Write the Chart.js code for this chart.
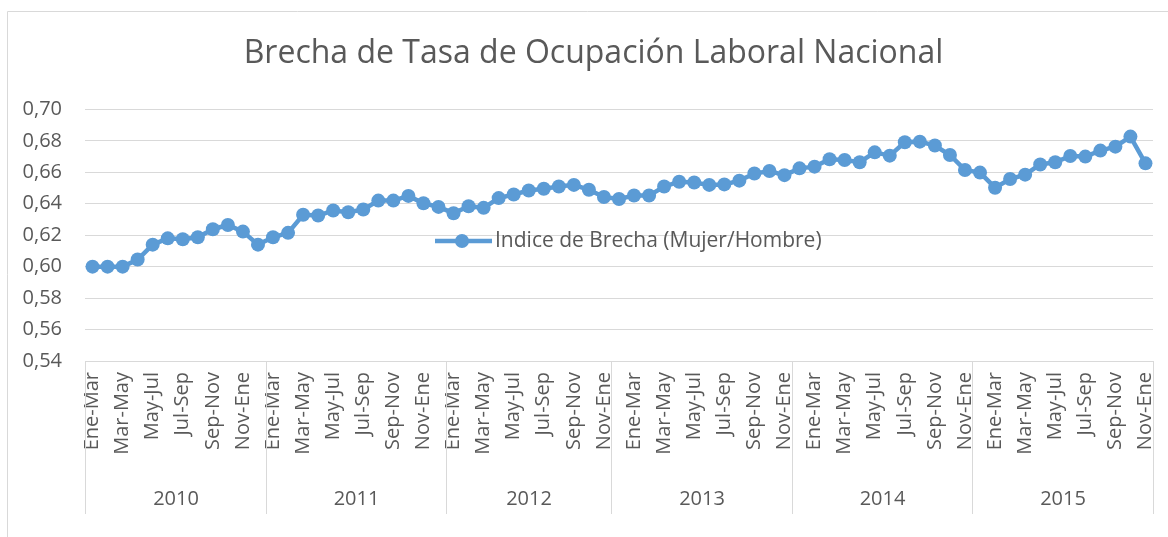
<!DOCTYPE html>
<html>
<head>
<meta charset="utf-8">
<title>Brecha de Tasa de Ocupación Laboral Nacional</title>
<script src="https://cdn.jsdelivr.net/npm/chart.js@4"></script>
<style>
  html, body { margin: 0; padding: 0; background: #fff; }
  #wrap { width: 1168px; height: 537px; }
</style>
</head>
<body>
<div id="wrap"><canvas id="chart"></canvas></div>
<script>
// Moving quarters per year (2012 has no Dic-Feb, 2013+ start with it)
const periodsA = ['Ene-Mar', 'Feb-Abr', 'Mar-May', 'Abr-Jun', 'May-Jul', 'Jun-Ago',
                  'Jul-Sep', 'Ago-Oct', 'Sep-Nov', 'Oct-Dic', 'Nov-Ene', 'Dic-Feb'];
const periods2012 = periodsA.slice(0, 11);
const periodsB = ['Dic-Feb'].concat(periodsA.slice(0, 11));

const years = ['2010', '2011', '2012', '2013', '2014', '2015'];
const yearPeriods = [periodsA, periodsA, periods2012, periodsB, periodsB, periodsB];

const yTicks = [0.54, 0.56, 0.58, 0.60, 0.62, 0.64, 0.66, 0.68, 0.70];

const seriesName = 'Indice de Brecha (Mujer/Hombre)';
const brecha = [
    // 2010
    0.600, 0.600, 0.600, 0.6045, 0.614, 0.618, 0.6174, 0.6187, 0.6238, 0.6265, 0.6223, 0.614,
    // 2011
    0.6187, 0.6215, 0.633, 0.6325, 0.6357, 0.6346, 0.6363, 0.642, 0.642, 0.645, 0.6403, 0.638,
    // 2012
    0.634, 0.6384, 0.6374, 0.6436, 0.6459, 0.6484, 0.6495, 0.651, 0.652, 0.6489, 0.6443,
    // 2013
    0.643, 0.6452, 0.6452, 0.651, 0.654, 0.6535, 0.652, 0.6523, 0.6547, 0.6592, 0.6608, 0.6582,
    // 2014
    0.6625, 0.6636, 0.6683, 0.6678, 0.6664, 0.6727, 0.6706, 0.6791, 0.6795, 0.677, 0.671, 0.6615,
    // 2015
    0.6598, 0.6502, 0.6557, 0.6585, 0.665, 0.6664, 0.6704, 0.670, 0.6738, 0.6763, 0.6827, 0.6657
];

const labels = [].concat(...yearPeriods);

const gray = '#595959';
const lineGray = '#d9d9d9';
const blue = '#5b9bd5';

Chart.defaults.font.family = "'Open Sans', sans-serif";
Chart.defaults.color = gray;

// Frame, year groups and the legend placed inside the plot
const extras = {
    id: 'extras',
    afterLayout(chart) {
        // title is centred on the frame, not on the canvas
        if (chart.titleBlock) chart.titleBlock.left += 34;
    },
    afterDraw(chart) {
        const ctx = chart.ctx;
        const x = chart.scales.x;
        const area = chart.chartArea;
        ctx.save();
        ctx.strokeStyle = lineGray;
        ctx.lineWidth = 1;

        // outer frame (only top and left visible)
        ctx.beginPath();
        ctx.moveTo(7.5, chart.height);
        ctx.lineTo(7.5, 11.5);
        ctx.lineTo(chart.width, 11.5);
        ctx.stroke();

        // year separators and labels
        const half = (x.getPixelForValue(1) - x.getPixelForValue(0)) / 2;
        ctx.font = "20px 'Open Sans', sans-serif";
        ctx.fillStyle = gray;
        ctx.textAlign = 'center';
        ctx.textBaseline = 'middle';
        let start = 0;
        years.forEach((yr, k) => {
            const n = yearPeriods[k].length;
            const x0 = Math.round(x.getPixelForValue(start) - half) + 0.5;
            const x1 = Math.round(x.getPixelForValue(start + n - 1) + half) + 0.5;
            ctx.beginPath();
            ctx.moveTo(x0, area.bottom);
            ctx.lineTo(x0, 514);
            if (k === years.length - 1) {
                ctx.moveTo(x1, area.bottom);
                ctx.lineTo(x1, 514);
            }
            ctx.stroke();
            ctx.fillText(yr, (x0 + x1) / 2, 499);
            start += n;
        });

        // legend
        const ly = 241;
        ctx.strokeStyle = blue;
        ctx.lineWidth = 4.5;
        ctx.beginPath();
        ctx.moveTo(435, ly);
        ctx.lineTo(492, ly);
        ctx.stroke();
        ctx.fillStyle = blue;
        ctx.beginPath();
        ctx.arc(462, ly, 7, 0, Math.PI * 2);
        ctx.fill();
        ctx.fillStyle = gray;
        ctx.textAlign = 'left';
        ctx.font = "21px 'Open Sans', sans-serif";
        ctx.fillText(seriesName, 495, ly);
        ctx.restore();
    }
};

new Chart(document.getElementById('chart'), {
    type: 'line',
    data: {
        labels: labels,
        datasets: [{
            label: seriesName,
            data: brecha,
            borderColor: blue,
            backgroundColor: blue,
            borderWidth: 4.5,
            pointRadius: 7,
            pointHoverRadius: 7,
            pointBorderWidth: 0,
            tension: 0
        }]
    },
    options: {
        responsive: true,
        maintainAspectRatio: false,
        animation: false,
        layout: { padding: { left: 0, right: 15, top: 0, bottom: 0 } },
        plugins: {
            legend: { display: false },
            tooltip: { enabled: false },
            title: {
                display: true,
                text: 'Brecha de Tasa de Ocupación Laboral Nacional',
                color: gray,
                font: { size: 32, weight: 'normal' },
                padding: { top: 35, bottom: 36 }
            }
        },
        scales: {
            x: {
                offset: true,
                grid: { display: false, drawTicks: false },
                border: { display: true, color: lineGray, width: 1 },
                ticks: {
                    autoSkip: false,
                    maxRotation: 90,
                    minRotation: 90,
                    padding: 11,
                    font: { size: 20 },
                    callback: (v, i) => (i % 2 === 0 ? labels[i] : '')
                },
                afterFit: (scale) => {
                    scale.height = 176;
                    scale.paddingLeft = 0;
                    scale.paddingRight = 0;
                }
            },
            y: {
                min: yTicks[0],
                max: yTicks[yTicks.length - 1],
                afterBuildTicks: (scale) => { scale.ticks = yTicks.map(v => ({ value: v })); },
                grid: { color: lineGray, drawTicks: false },
                border: { display: false },
                ticks: {
                    padding: 23,
                    font: { size: 20 },
                    callback: (v) => v.toFixed(2).replace('.', ',')
                },
                afterFit: (scale) => { scale.width = 85; }
            }
        }
    },
    plugins: [extras]
});
</script>
</body>
</html>
